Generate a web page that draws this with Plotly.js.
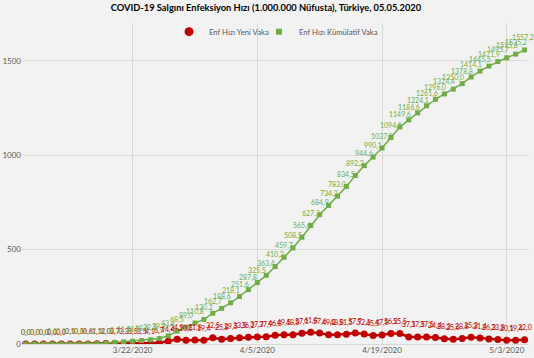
<!DOCTYPE html>
<html>
<head>
<meta charset="utf-8">
<script src="https://cdn.plot.ly/plotly-3.0.1.min.js"></script>
<style>html,body{margin:0;padding:0;background:#f2f2f2;}#chart{width:534px;height:358px;}</style>
</head>
<body>
<div id="chart"></div>
<script>
const dates = [
 "2020-03-10","2020-03-11","2020-03-12","2020-03-13","2020-03-14","2020-03-15","2020-03-16","2020-03-17","2020-03-18","2020-03-19",
 "2020-03-20","2020-03-21","2020-03-22","2020-03-23","2020-03-24","2020-03-25","2020-03-26","2020-03-27","2020-03-28","2020-03-29",
 "2020-03-30","2020-03-31","2020-04-01","2020-04-02","2020-04-03","2020-04-04","2020-04-05","2020-04-06","2020-04-07","2020-04-08",
 "2020-04-09","2020-04-10","2020-04-11","2020-04-12","2020-04-13","2020-04-14","2020-04-15","2020-04-16","2020-04-17","2020-04-18",
 "2020-04-19","2020-04-20","2020-04-21","2020-04-22","2020-04-23","2020-04-24","2020-04-25","2020-04-26","2020-04-27","2020-04-28",
 "2020-04-29","2020-04-30","2020-05-01","2020-05-02","2020-05-03","2020-05-04","2020-05-05"];

const newRate = [
 0.0,0.0,0.0,0.0,0.0,0.1,0.3,0.6,1.1,2.0,
 3.7,3.3,3.5,3.5,4.1,6.7,14.4,24.9,20.5,21.8,
 19.4,32.5,25.8,29.5,33.5,36.2,37.7,37.9,46.8,49.5,
 48.8,57.1,61.8,57.6,49.2,48.8,51.5,57.7,52.3,45.5,
 47.8,56.2,55.5,37.1,37.5,37.5,34.4,28.3,25.6,28.8,
 35.3,31.4,26.3,23.8,20.1,19.4,22.0];

const cumRate = [
 0.0,0.0,0.0,0.1,0.1,0.2,0.6,1.2,2.3,4.3,
 8.1,11.4,14.9,18.4,22.5,29.3,43.6,68.5,89.0,110.8,
 130.2,162.7,188.6,218.1,251.6,287.8,325.5,363.4,410.2,459.7,
 508.5,565.6,627.3,684.9,734.2,783.0,834.5,892.2,944.6,990.1,
 1037.9,1094.1,1149.6,1186.6,1224.1,1261.6,1296.0,1324.4,1350.0,1378.8,
 1414.1,1445.5,1471.9,1495.7,1515.8,1535.2,1557.2];

const xTickVals = ["2020-03-22","2020-04-05","2020-04-19","2020-05-03"];
const xTickText = ["3/22/2020","4/5/2020","4/19/2020","5/3/2020"];
const yTickVals = [0,500,1000,1500];

const seriesNames = ["Enf Hızı Yeni Vaka","Enf Hızı Kümülatif Vaka"];
const RED = "#c00000", GREEN = "#70ad47";
const FONT = "Lato, 'Open Sans', sans-serif";

const fmt = v => v.toFixed(1).replace(".", ",");

const traces = [
 {x: dates, y: newRate, type: "scatter", mode: "lines+markers", showlegend: false,
  line: {color: RED, width: 2.5}, marker: {color: RED, size: 7, symbol: "circle"}, hoverinfo: "skip"},
 {x: dates, y: cumRate, type: "scatter", mode: "lines+markers", showlegend: false,
  line: {color: GREEN, width: 1.5}, marker: {color: GREEN, size: 5, symbol: "square"}, hoverinfo: "skip"},
 {x: [null], y: [null], type: "scatter", mode: "markers", name: seriesNames[0], legend: "legend",
  marker: {color: RED, size: 9, symbol: "circle"}},
 {x: [null], y: [null], type: "scatter", mode: "markers", name: seriesNames[1], legend: "legend2",
  marker: {color: GREEN, size: 6, symbol: "square"}}
];

const annotations = [];
dates.forEach((d, i) => {
  annotations.push({x: d, y: newRate[i], xref: "x", yref: "y", text: fmt(newRate[i]), showarrow: false,
    yshift: 12, font: {family: FONT, size: 7, color: RED}});
});
dates.forEach((d, i) => {
  annotations.push({x: d, y: cumRate[i], xref: "x", yref: "y", text: fmt(cumRate[i]), showarrow: false,
    yshift: 12, xshift: (i === dates.length - 1 ? -2 : 0), font: {family: FONT, size: 7, color: GREEN}});
});

const legendBase = {orientation: "h", xanchor: "left", y: 0.973, yanchor: "middle",
  bgcolor: "rgba(0,0,0,0)", font: {family: FONT, size: 7.7, color: "#595959"}, itemwidth: 30};

const layout = {
  width: 534, height: 358,
  paper_bgcolor: "#f2f2f2", plot_bgcolor: "#f2f2f2",
  margin: {l: 22, r: 5, t: 23, b: 14, pad: 0},
  font: {family: FONT, color: "#595959", size: 8},
  title: {text: "<b>COVID-19 Salgını Enfeksiyon Hızı (1.000.000 Nüfusta), Türkiye, 05.05.2020</b>",
    font: {family: FONT, size: 9.3, color: "#000000"}, x: 0.498, xanchor: "center", y: 0.978, yanchor: "middle"},
  xaxis: {type: "date", range: ["2020-03-09 14:00", "2020-05-05 12:00"], tickvals: xTickVals, ticktext: xTickText,
    showgrid: true, gridcolor: "#d9d9d9", gridwidth: 1, zeroline: false, showline: false, ticks: "",
    tickfont: {family: FONT, size: 8, color: "#595959"}},
  yaxis: {range: [0, 1700], tickvals: yTickVals, showgrid: true, gridcolor: "#d9d9d9", gridwidth: 1,
    zeroline: true, zerolinecolor: "#d9d9d9", zerolinewidth: 1, showline: false, ticks: "",
    tickfont: {family: FONT, size: 8, color: "#595959"}},
  legend: Object.assign({}, legendBase, {x: 0.290}),
  legend2: Object.assign({}, legendBase, {x: 0.4675}),
  annotations: annotations
};

Plotly.newPlot("chart", traces, layout, {displayModeBar: false, staticPlot: true});
</script>
</body>
</html>
